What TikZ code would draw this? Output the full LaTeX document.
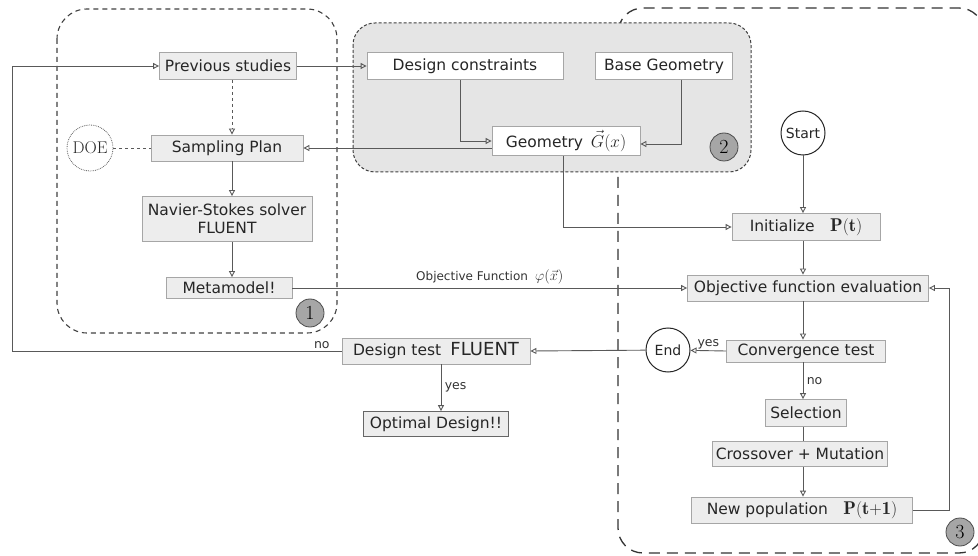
\documentclass[tikz,border=0pt]{standalone}
\usepackage{fontspec}
\setsansfont{DejaVu Sans}
\usetikzlibrary{arrows.meta}
\newcommand{\bigmath}[1]{{\fontsize{18.5}{20}\selectfont$#1$}}
\begin{document}
\begin{tikzpicture}[x=1pt,y=-1pt,
  font=\sffamily\fontsize{15.5}{18}\selectfont,
  box/.style={draw=black!35, fill=black!7, line width=0.8pt, text=black!85, inner sep=0pt, minimum height=26pt},
  wbox/.style={box, fill=white},
  term/.style={circle, draw=black!85, line width=1pt, fill=white, text=black!85, inner sep=0pt, minimum size=44pt, font=\sffamily\fontsize{14}{16}\selectfont},
  tag/.style={circle, draw=black!70, fill=black!35, line width=0.8pt, inner sep=0pt, minimum size=28pt, font=\rmfamily\fontsize{20}{20}\selectfont},
  link/.style={draw=black!65, line width=0.9pt},
  arr/.style={link, -{Triangle[open, length=6pt, width=6pt]}},
  lbl/.style={font=\sffamily\fontsize{12.5}{14}\selectfont, text=black!80},
  grpA/.style={draw=black!75, line width=1.1pt, dash pattern=on 5pt off 4pt, rounded corners=30pt},
  grpB/.style={draw=black!75, fill=black!10, line width=1pt, dash pattern=on 3pt off 2pt, rounded corners=22pt},
  grpC/.style={draw=black!80, line width=1.3pt, dash pattern=on 11pt off 7pt, rounded corners=25pt},
]
\useasboundingbox (0,0) rectangle (978,556);

% regions: genetic loop, geometry block, metamodel block
\draw[grpC] (618,8) rectangle (984,553);
\draw[grpB] (353,23) rectangle (751,172);
\draw[grpA] (57,9) rectangle (337,333);

% metamodel block
\coordinate (c1) at (232,0);
\node[box, minimum width=137pt, minimum height=27pt] (prev) at (228,66) {Previous studies};
\node[box, minimum width=152pt] (samp) at (227,148) {Sampling Plan};
\node[circle, draw=black!60, densely dotted, line width=0.8pt, minimum size=46pt, inner sep=0pt, text=black!85, font=\rmfamily\fontsize{17}{17}\selectfont] (doe) at (90,148) {DOE};
\node[box, minimum width=170pt, minimum height=45pt, align=center] (ns) at (227,219) {Navier-Stokes solver\\FLUENT};
\node[box, minimum width=126pt, minimum height=21pt] (meta) at (229,288) {Metamodel!};
\node[tag] (t1) at (310,313) {1};

% geometry block
\node[wbox, minimum width=148pt, minimum height=29pt] (geo) at (566,141) {Geometry\enspace\bigmath{\vec G(x)}};
\node[wbox, minimum width=196pt, minimum height=27pt] (dc) at (465,66) {Design constraints};
\node[wbox, minimum width=137pt, minimum height=27pt] (bg) at (664,66) {Base Geometry};
\node[tag] (t2) at (724,147) {2};

% genetic loop
\node[term] (start) at (803,133) {Start};
\node[box, minimum width=148pt, minimum height=27pt] (init) at (806,227) {Initialize\quad\bigmath{\mathbf{P(t)}}};
\node[box, minimum width=241pt] (ofe) at (808,288) {Objective function evaluation};
\node[box, minimum width=159pt, minimum height=22pt] (conv) at (806,351) {Convergence test};
\node[term] (end) at (668,350) {End};
\node[box, minimum width=81pt, minimum height=27pt] (sel) at (806,413) {Selection};
\node[box, minimum width=175pt, minimum height=25pt] (cm) at (800,454) {Crossover + Mutation};
\node[box, minimum width=221pt] (np) at (802,510) {New population\quad\bigmath{\mathbf{P(t{+}1)}}};
\node[tag] (t3) at (960,532) {3};

% validation
\node[box, minimum width=188pt] (dt) at (436,351) {Design test\; {\fontsize{18}{18}\selectfont FLUENT}};
\node[box, draw=black!60, minimum width=145pt, minimum height=25pt] (opt) at (436,424) {Optimal Design!!};
\coordinate (fb) at (12,351);

% connectors, metamodel block
\draw[arr, dashed] (prev.south -| c1) -- (samp.north -| c1);
\draw[link, dashed] (doe) -- (samp);
\draw[arr] (samp.south -| c1) -- (ns.north -| c1);
\draw[arr] (ns.south -| c1) -- (meta.north -| c1);

% connectors, geometry block
\draw[arr] (prev.east) -- (dc.west);
\draw[arr] ([xshift=-5pt]dc.south) |- (geo.west);
\draw[arr] ([xshift=17pt]bg.south) |- ([yshift=-3pt]geo.east);
\draw[arr] (geo.west |- samp.east) -- (samp.east);
\draw[arr] ([xshift=-3pt]geo.south) |- (init.west);

% connectors, genetic loop
\draw[arr] (start) -- (start |- init.north);
\draw[arr] (init.south -| start) -- (ofe.north -| start);
\draw[arr] (ofe.south -| start) -- (conv.north -| start);
\draw[arr] (conv.south -| start) -- node[lbl, right] {no} (sel.north -| start);
\draw[link] (sel.south -| start) -- (cm.north -| start);
\draw[arr] (cm.south -| start) -- (np.north -| start);
\draw[arr] (np.east) -- ++(37,0) |- (ofe.east);
\draw[arr] (meta.east) -- node[lbl, above, font=\sffamily\fontsize{12}{14}\selectfont, inner sep=3pt] {Objective Function\; {\fontsize{14.5}{16}\selectfont$\varphi(\vec x)$}} (ofe.west);
\draw[arr] (conv.west) -- node[lbl, above, inner sep=1pt] {yes} (end);
\draw[arr] (end) -- (dt.east);
\draw[arr] (dt.west) -- node[lbl, pos=0.06, above, inner sep=2pt] {no} (fb) |- (prev.west);
\draw[arr] ([xshift=5pt]dt.south) -- node[lbl, right] {yes} ([xshift=5pt]opt.north);
\end{tikzpicture}
\end{document}
